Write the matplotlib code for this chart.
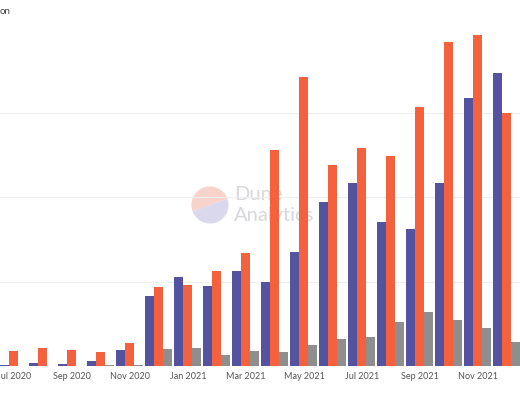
import numpy as np
import matplotlib.pyplot as plt
from matplotlib.patches import Wedge

# monthly values, in gridline units (axis labels are cropped off in the reference)
months = ['Jul 2020', 'Aug 2020', 'Sep 2020', 'Oct 2020', 'Nov 2020', 'Dec 2020',
          'Jan 2021', 'Feb 2021', 'Mar 2021', 'Apr 2021', 'May 2021', 'Jun 2021',
          'Jul 2021', 'Aug 2021', 'Sep 2021', 'Oct 2021', 'Nov 2021', 'Dec 2021']
blue_vals = [0.015, 0.03, 0.025, 0.055, 0.19, 0.83, 1.05, 0.95, 1.13, 1.00, 1.35, 1.94,
             2.17, 1.70, 1.62, 2.17, 3.17, 3.47]
orange_vals = [0.18, 0.21, 0.19, 0.17, 0.27, 0.94, 0.96, 1.12, 1.34, 2.56, 3.42, 2.38,
               2.58, 2.48, 3.06, 3.83, 3.92, 3.00]
gray_vals = [0.005, 0.005, 0.004, 0.01, 0.01, 0.20, 0.21, 0.13, 0.18, 0.16, 0.25, 0.315,
             0.34, 0.52, 0.64, 0.54, 0.445, 0.28]
tick_labels = months[::2]

blue = '#5453a0'
orange = '#f5603d'
gray = '#8e8e8e'

fig = plt.figure(figsize=(5.2, 4.0), dpi=100)
ax = fig.add_axes([0, 0.085, 1, 0.845])

x = np.arange(len(months))
w = 0.31
ax.bar(x - w, blue_vals, w, color=blue, zorder=3)
ax.bar(x, orange_vals, w, color=orange, zorder=3)
ax.bar(x + w, gray_vals, w, color=gray, zorder=3)

ax.set_xlim(-0.48, 17.45)
ax.set_ylim(0, 4)
ax.set_yticks([0, 1, 2, 3])
ax.set_yticklabels([])
ax.tick_params(axis='y', length=0)
ax.grid(axis='y', color='#eeeeee', linewidth=0.8, zorder=0)
ax.set_xticks(x[::2])
ax.set_xticklabels(tick_labels, fontsize=6.5, color='#555555', family='Lato')
ax.tick_params(axis='x', length=0, pad=4)
for s in ax.spines.values():
    s.set_visible(False)

# watermark, behind the bars
wm = fig.add_axes([0, 0, 1, 1], zorder=0)
wm.set_xlim(0, 520)
wm.set_ylim(400, 0)
wm.set_aspect('equal')
wm.axis('off')
wm.add_patch(Wedge((210, 205), 18.5, 160, 340, facecolor='#f8d3cb', edgecolor='none'))
wm.add_patch(Wedge((210, 205), 18.5, 340, 160, facecolor='#d9d8ec', edgecolor='none'))
wm.text(234, 195, 'Dune', fontsize=14.5, color='#d7d7dc', va='center', ha='left', family='Lato')
wm.text(234, 215, 'Analytics', fontsize=14.5, color='#d7d7dc', va='center', ha='left', family='Lato')
ax.set_zorder(1)
ax.patch.set_alpha(0)

fig.text(11 / 520, 1 - 12 / 400, 'on', fontsize=7, color='#444444', ha='right', va='center', family='Lato')

fig.savefig('out.png', dpi=100)
